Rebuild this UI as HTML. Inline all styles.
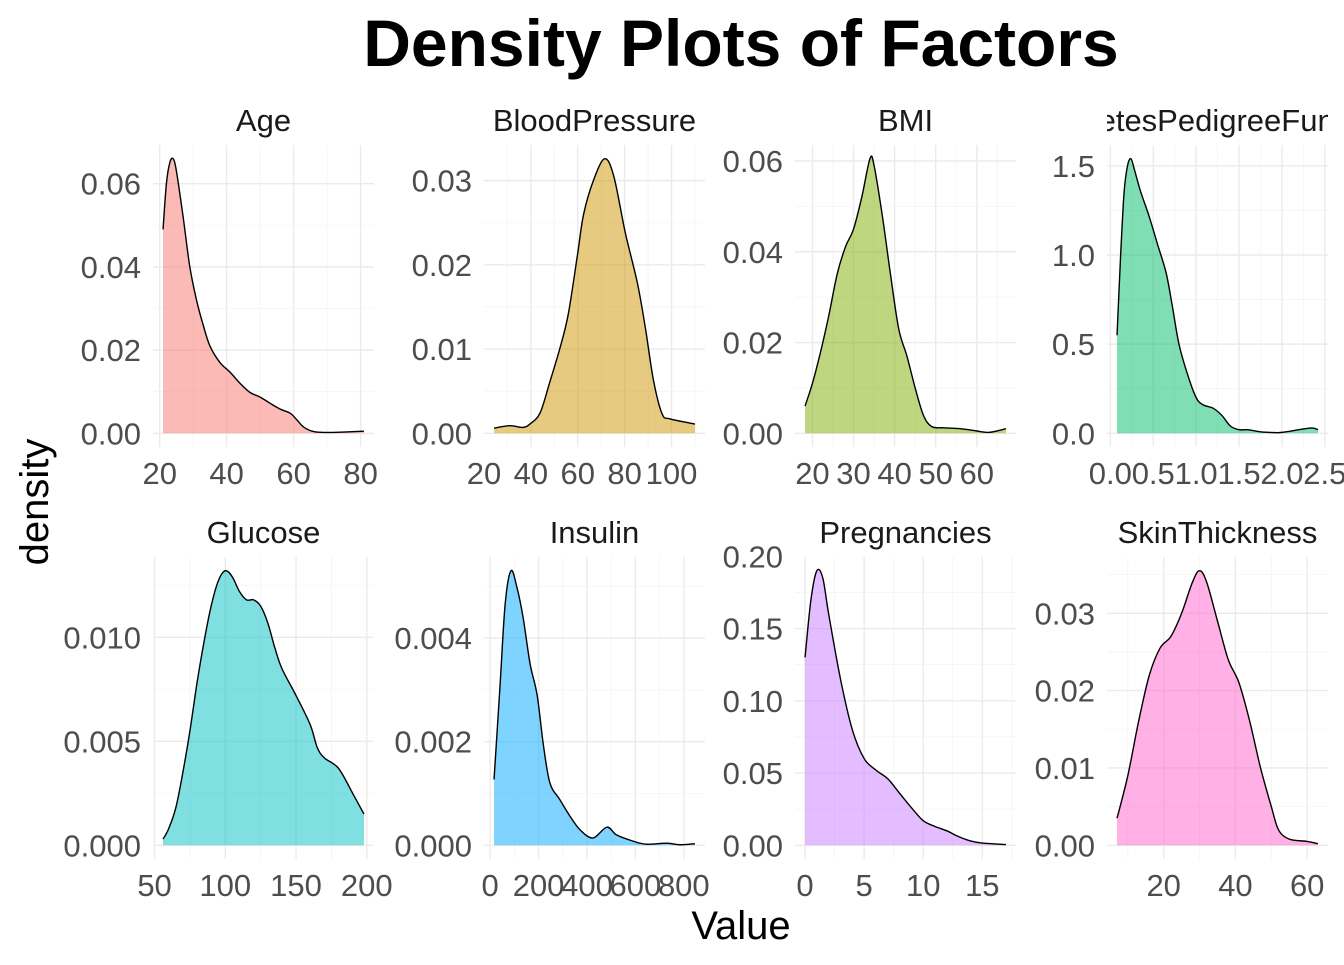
<!DOCTYPE html>
<html><head><meta charset="utf-8">
<style>
html,body{margin:0;padding:0;background:#fff;}
svg text{font-family:"Liberation Sans",Arial,sans-serif;}
</style></head>
<body>
<svg id="chart" width="1344" height="960" viewBox="0 0 1344 960" xmlns="http://www.w3.org/2000/svg">
<text x="741" y="66" text-anchor="middle" font-size="66" font-weight="bold" fill="#000">Density Plots of Factors</text>
<text x="741" y="939" text-anchor="middle" font-size="40" fill="#000">Value</text>
<text x="48" y="502" text-anchor="middle" font-size="40" fill="#000" transform="rotate(-90 48 502)">density</text>
<g id="panels"></g>
</svg>
<script>
// ---- data ----
const panelNames = ["Age","BloodPressure","BMI","DiabetesPedigreeFunction","Glucose","Insulin","Pregnancies","SkinThickness"];
const panelColors = ["#F8766D","#CD9600","#7CAE00","#00BE67","#00BFC4","#00A9FF","#C77CFF","#FF61CC"];
const ageX = [21,22,23,24,25,27,29,31,33,35,38,41,44,47,50,53,56,59,61,63,66,70,75,81];
const ageY = [0.049,0.060,0.065,0.066,0.063,0.052,0.040,0.032,0.026,0.021,0.017,0.0147,0.012,0.0098,0.0087,0.0072,0.0058,0.0048,0.0032,0.0015,0.0004,0.0002,0.0003,0.0005];
const bpX = [24.3,31,36.6,39.6,43.9,48,52.5,56,60,62.5,66.8,71.5,75.4,80.3,85.4,88.8,92.3,96,99.5,110];
const bpY = [0.0006,0.0009,0.0007,0.0011,0.0024,0.006,0.0102,0.0142,0.0214,0.026,0.0301,0.0326,0.0305,0.0238,0.0179,0.0126,0.0063,0.0023,0.0017,0.0011];
const bmiX = [18.2,20,22,24,26,28,30,32,34,35,37,39,41,43,45,47,49,52,56,60,63,67.1];
const bmiY = [0.006,0.011,0.018,0.026,0.035,0.041,0.045,0.052,0.0605,0.059,0.048,0.035,0.023,0.017,0.010,0.004,0.0015,0.0012,0.001,0.0005,0.0002,0.001];
const dpfX = [0.078,0.12,0.16,0.2,0.24,0.28,0.35,0.45,0.55,0.65,0.72,0.8,0.9,1.0,1.08,1.2,1.3,1.4,1.5,1.6,1.75,1.9,2.0,2.2,2.35,2.42];
const dpfY = [0.55,1.0,1.35,1.5,1.54,1.48,1.36,1.22,1.06,0.9,0.72,0.5,0.33,0.2,0.16,0.14,0.1,0.04,0.02,0.02,0.008,0.004,0.005,0.02,0.03,0.02];
const gluX = [56,60,65,70,75,80,85,90,95,100,105,110,115,120,125,130,135,140,150,160,165,170,180,190,198];
const gluY = [0.0003,0.0008,0.0018,0.0035,0.0055,0.0078,0.0098,0.0115,0.0127,0.0132,0.0129,0.0122,0.0118,0.0118,0.0115,0.0107,0.0095,0.0085,0.0072,0.0058,0.0047,0.0042,0.0037,0.0025,0.0015];
const insX = [16,41,62,86,111,136,165,194,220,247,288,330,371,425,482,522,590,647,730,784,846];
const insY = [0.00127,0.0031,0.00466,0.0053,0.00497,0.0044,0.0035,0.0029,0.00193,0.0012,0.00088,0.00056,0.0003,0.00014,0.00035,0.0002,0.00008,0.00002,0.00004,0.00001,0.00003];
const preX = [0,0.5,1,1.5,2,3,4,5,6,7,8,9,10,11,12,13,14,15,17];
const preY = [0.13,0.17,0.19,0.185,0.16,0.115,0.08,0.06,0.052,0.046,0.036,0.026,0.017,0.013,0.01,0.006,0.003,0.0015,0.0005];
const skinX = [7,10,13,16,19,22,25,28,30,32,35,38,41,44,47,50,52,55,60,63];
const skinY = [0.0035,0.009,0.016,0.022,0.0255,0.027,0.030,0.034,0.0355,0.034,0.029,0.024,0.021,0.016,0.010,0.005,0.002,0.0008,0.0005,0.0002];
const xTicks = [[20,40,60,80],[20,40,60,80,100],[20,30,40,50,60],[0,0.5,1,1.5,2,2.5],[50,100,150,200],[0,200,400,600,800],[0,5,10,15],[20,40,60]];
const xTickLabels = [["20","40","60","80"],["20","40","60","80","100"],["20","30","40","50","60"],["0.0","0.5","1.0","1.5","2.0","2.5"],["50","100","150","200"],["0","200","400","600","800"],["0","5","10","15"],["20","40","60"]];
const yTicks = [[0,0.02,0.04,0.06],[0,0.01,0.02,0.03],[0,0.02,0.04,0.06],[0,0.5,1,1.5],[0,0.005,0.01],[0,0.002,0.004],[0,0.05,0.1,0.15,0.2],[0,0.01,0.02,0.03]];
const yTickLabels = [["0.00","0.02","0.04","0.06"],["0.00","0.01","0.02","0.03"],["0.00","0.02","0.04","0.06"],["0.0","0.5","1.0","1.5"],["0.000","0.005","0.010"],["0.000","0.002","0.004"],["0.00","0.05","0.10","0.15","0.20"],["0.00","0.01","0.02","0.03"]];
const seriesX = [ageX,bpX,bmiX,dpfX,gluX,insX,preX,skinX];
const seriesY = [ageY,bpY,bmiY,dpfY,gluY,insY,preY,skinY];

// ---- layout ----
const NS="http://www.w3.org/2000/svg";
const colX=[153,484,795,1107], rowY=[145,557], PW=221, PH=302;
const root=document.getElementById('panels');
function mk(tag,attrs,parent){const e=document.createElementNS(NS,tag);for(const k in attrs)e.setAttribute(k,attrs[k]);(parent||root).appendChild(e);return e;}
function smooth(pts){let d="M"+pts[0][0]+","+pts[0][1];
 for(let i=0;i<pts.length-1;i++){const p0=pts[Math.max(0,i-1)],p1=pts[i],p2=pts[i+1],p3=pts[Math.min(pts.length-1,i+2)];
  const c1=[p1[0]+(p2[0]-p0[0])/6,p1[1]+(p2[1]-p0[1])/6],c2=[p2[0]-(p3[0]-p1[0])/6,p2[1]-(p3[1]-p1[1])/6];
  d+=" C"+c1[0].toFixed(2)+","+c1[1].toFixed(2)+" "+c2[0].toFixed(2)+","+c2[1].toFixed(2)+" "+p2[0].toFixed(2)+","+p2[1].toFixed(2);}
 return d;}

for(let i=0;i<8;i++){
  const px=colX[i%4], py=rowY[Math.floor(i/4)];
  const xs=seriesX[i], ys=seriesY[i];
  const xmin=Math.min(...xs), xmax=Math.max(...xs), xr=xmax-xmin;
  const ymax=Math.max(...ys);
  const x0=xmin-0.05*xr, x1=xmax+0.05*xr, y0=-0.05*ymax, y1=1.05*ymax;
  const sx=v=>px+(v-x0)/(x1-x0)*PW;
  const sy=v=>py+PH-(v-y0)/(y1-y0)*PH;
  const g=mk('g',{});
  
  
  const xt=xTicks[i], yt=yTicks[i];
  const xstep=xt[1]-xt[0], ystep=yt[1]-yt[0];
  for(let v=xt[0]-xstep/2; v<=xt[xt.length-1]+xstep; v+=xstep/2){
    if(v<x0||v>x1) continue;
    const major=Math.abs(((v-xt[0])/xstep)-Math.round((v-xt[0])/xstep))<1e-6;
    const l=mk('line',{x1:sx(v),x2:sx(v),y1:py,y2:py+PH,stroke:major?'#ebebeb':'#f3f3f3','stroke-width':major?1.4:0.8},g);
    
    
  }
  for(let v=yt[0]-ystep/2; v<=yt[yt.length-1]+ystep; v+=ystep/2){
    if(v<y0||v>y1) continue;
    const major=Math.abs(((v-yt[0])/ystep)-Math.round((v-yt[0])/ystep))<1e-6;
    const l=mk('line',{x1:px,x2:px+PW,y1:sy(v),y2:sy(v),stroke:major?'#ebebeb':'#f3f3f3','stroke-width':major?1.4:0.8},g);
    
    
  }
  const pts=xs.map((x,j)=>[sx(x),sy(ys[j])]);
  const curve=smooth(pts);
  const area=mk('path',{d:curve+" L"+sx(xmax)+","+sy(0)+" L"+sx(xmin)+","+sy(0)+" Z",fill:panelColors[i],'fill-opacity':0.5,stroke:'none'},g);
  
  
  const line=mk('path',{d:curve,fill:'none',stroke:'#000','stroke-width':1.4},g);
  
  
  xt.forEach((v,j)=>{const t=mk('text',{x:sx(v),y:py+PH+37,'text-anchor':'middle','font-size':31,fill:'#4d4d4d'},g);t.textContent=xTickLabels[i][j];
    
    });
  yt.forEach((v,j)=>{const t=mk('text',{x:px-12,y:sy(v)+11,'text-anchor':'end','font-size':31,fill:'#4d4d4d'},g);t.textContent=yTickLabels[i][j];
    
    });
  const cp=mk('clipPath',{id:'clip'+i},g);
  mk('rect',{x:px,y:py-50,width:PW,height:50},cp);
  const st=mk('text',{x:px+PW/2,y:py-14,'text-anchor':'middle','font-size':31,fill:'#1a1a1a','clip-path':'url(#clip'+i+')'},g);
  st.textContent=panelNames[i];
  
  
}
</script>
</body></html>
